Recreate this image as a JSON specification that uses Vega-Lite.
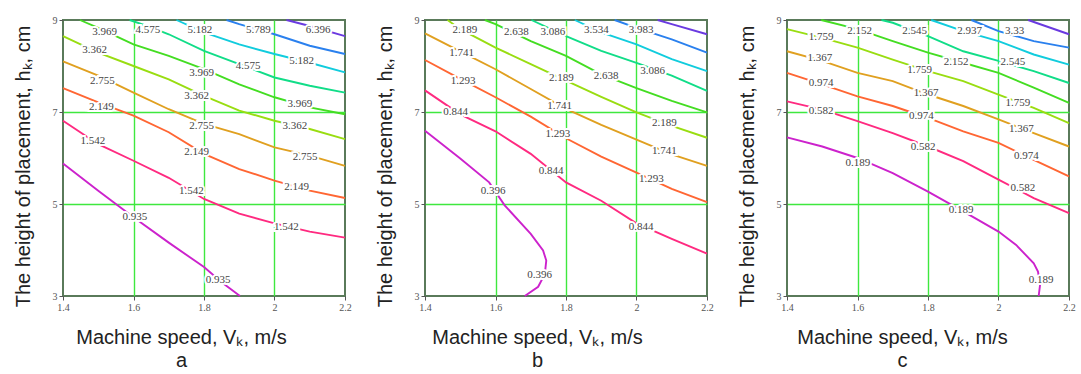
{
  "$schema": "https://vega.github.io/schema/vega-lite/v6.json",
  "background": "white",
  "padding": {"left": 11, "top": 14, "right": 0, "bottom": 0},
  "bounds": "flush",
  "spacing": 80,
  "config": {
    "view": {"stroke": "#5a7a5a", "strokeWidth": 2},
    "axis": {
      "labelFont": "Liberation Serif", "labelFontSize": 10, "labelColor": "#555",
      "titleFont": "Liberation Sans", "titleFontSize": 20, "titleFontWeight": "normal", "titleColor": "#222",
      "domain": false, "tickColor": "#555", "tickSize": 4, "labelPadding": 2,
      "grid": true, "gridColor": "#3ee83e", "gridWidth": 1.4
    },
    "axisX": {"labelFlush": false, "titlePadding": 15, "titleLineHeight": 23},
    "axisY": {"titlePadding": 19, "titleY": 146}
  },
  "datasets": {
    "lines": [
      {"p":"a","k":0,"i":0,"x":1.4,"y":5.88},{"p":"a","k":0,"i":1,"x":1.5,"y":5.29},{"p":"a","k":0,"i":2,"x":1.6,"y":4.71},{"p":"a","k":0,"i":3,"x":1.7,"y":4.16},{"p":"a","k":0,"i":4,"x":1.8,"y":3.63},{"p":"a","k":0,"i":5,"x":1.85,"y":3.30},{"p":"a","k":0,"i":6,"x":1.902,"y":3.0},
      {"p":"a","k":1,"i":0,"x":1.4,"y":6.81},{"p":"a","k":1,"i":1,"x":1.5,"y":6.30},{"p":"a","k":1,"i":2,"x":1.6,"y":5.94},{"p":"a","k":1,"i":3,"x":1.7,"y":5.57},{"p":"a","k":1,"i":4,"x":1.8,"y":5.11},{"p":"a","k":1,"i":5,"x":1.9,"y":4.79},{"p":"a","k":1,"i":6,"x":2.0,"y":4.58},{"p":"a","k":1,"i":7,"x":2.1,"y":4.40},{"p":"a","k":1,"i":8,"x":2.2,"y":4.27},
      {"p":"a","k":2,"i":0,"x":1.4,"y":7.52},{"p":"a","k":2,"i":1,"x":1.5,"y":7.21},{"p":"a","k":2,"i":2,"x":1.6,"y":6.92},{"p":"a","k":2,"i":3,"x":1.7,"y":6.56},{"p":"a","k":2,"i":4,"x":1.8,"y":6.09},{"p":"a","k":2,"i":5,"x":1.9,"y":5.76},{"p":"a","k":2,"i":6,"x":2.0,"y":5.51},{"p":"a","k":2,"i":7,"x":2.1,"y":5.29},{"p":"a","k":2,"i":8,"x":2.2,"y":5.13},
      {"p":"a","k":3,"i":0,"x":1.4,"y":8.10},{"p":"a","k":3,"i":1,"x":1.5,"y":7.79},{"p":"a","k":3,"i":2,"x":1.6,"y":7.42},{"p":"a","k":3,"i":3,"x":1.7,"y":7.06},{"p":"a","k":3,"i":4,"x":1.8,"y":6.74},{"p":"a","k":3,"i":5,"x":1.9,"y":6.52},{"p":"a","k":3,"i":6,"x":2.0,"y":6.23},{"p":"a","k":3,"i":7,"x":2.1,"y":6.05},{"p":"a","k":3,"i":8,"x":2.2,"y":5.83},
      {"p":"a","k":4,"i":0,"x":1.4,"y":8.65},{"p":"a","k":4,"i":1,"x":1.5,"y":8.29},{"p":"a","k":4,"i":2,"x":1.6,"y":8.00},{"p":"a","k":4,"i":3,"x":1.7,"y":7.71},{"p":"a","k":4,"i":4,"x":1.8,"y":7.35},{"p":"a","k":4,"i":5,"x":1.9,"y":7.03},{"p":"a","k":4,"i":6,"x":2.0,"y":6.81},{"p":"a","k":4,"i":7,"x":2.1,"y":6.63},{"p":"a","k":4,"i":8,"x":2.2,"y":6.41},
      {"p":"a","k":5,"i":0,"x":1.448,"y":9.0},{"p":"a","k":5,"i":1,"x":1.5,"y":8.83},{"p":"a","k":5,"i":2,"x":1.6,"y":8.47},{"p":"a","k":5,"i":3,"x":1.7,"y":8.22},{"p":"a","k":5,"i":4,"x":1.8,"y":7.93},{"p":"a","k":5,"i":5,"x":1.9,"y":7.60},{"p":"a","k":5,"i":6,"x":2.0,"y":7.32},{"p":"a","k":5,"i":7,"x":2.1,"y":7.10},{"p":"a","k":5,"i":8,"x":2.2,"y":6.95},
      {"p":"a","k":6,"i":0,"x":1.589,"y":9.0},{"p":"a","k":6,"i":1,"x":1.65,"y":8.84},{"p":"a","k":6,"i":2,"x":1.7,"y":8.69},{"p":"a","k":6,"i":3,"x":1.8,"y":8.33},{"p":"a","k":6,"i":4,"x":1.9,"y":8.04},{"p":"a","k":6,"i":5,"x":2.0,"y":7.75},{"p":"a","k":6,"i":6,"x":2.1,"y":7.57},{"p":"a","k":6,"i":7,"x":2.2,"y":7.42},
      {"p":"a","k":7,"i":0,"x":1.722,"y":9.0},{"p":"a","k":7,"i":1,"x":1.8,"y":8.73},{"p":"a","k":7,"i":2,"x":1.9,"y":8.47},{"p":"a","k":7,"i":3,"x":2.0,"y":8.26},{"p":"a","k":7,"i":4,"x":2.1,"y":8.07},{"p":"a","k":7,"i":5,"x":2.2,"y":7.86},
      {"p":"a","k":8,"i":0,"x":1.864,"y":9.0},{"p":"a","k":8,"i":1,"x":1.9,"y":8.91},{"p":"a","k":8,"i":2,"x":2.0,"y":8.69},{"p":"a","k":8,"i":3,"x":2.1,"y":8.44},{"p":"a","k":8,"i":4,"x":2.2,"y":8.26},
      {"p":"a","k":9,"i":0,"x":2.034,"y":9.0},{"p":"a","k":9,"i":1,"x":2.1,"y":8.87},{"p":"a","k":9,"i":2,"x":2.2,"y":8.65},

      {"p":"b","k":0,"i":0,"x":1.4,"y":6.59},{"p":"b","k":0,"i":1,"x":1.5,"y":5.99},{"p":"b","k":0,"i":2,"x":1.582,"y":5.47},{"p":"b","k":0,"i":3,"x":1.626,"y":4.97},{"p":"b","k":0,"i":4,"x":1.7,"y":4.35},{"p":"b","k":0,"i":5,"x":1.735,"y":3.99},{"p":"b","k":0,"i":6,"x":1.744,"y":3.77},{"p":"b","k":0,"i":7,"x":1.740,"y":3.48},{"p":"b","k":0,"i":8,"x":1.721,"y":3.20},{"p":"b","k":0,"i":9,"x":1.683,"y":3.0},
      {"p":"b","k":1,"i":0,"x":1.4,"y":7.47},{"p":"b","k":1,"i":1,"x":1.5,"y":6.95},{"p":"b","k":1,"i":2,"x":1.6,"y":6.58},{"p":"b","k":1,"i":3,"x":1.7,"y":6.09},{"p":"b","k":1,"i":4,"x":1.8,"y":5.47},{"p":"b","k":1,"i":5,"x":1.9,"y":5.07},{"p":"b","k":1,"i":6,"x":2.0,"y":4.58},{"p":"b","k":1,"i":7,"x":2.1,"y":4.24},{"p":"b","k":1,"i":8,"x":2.2,"y":3.92},
      {"p":"b","k":2,"i":0,"x":1.4,"y":8.13},{"p":"b","k":2,"i":1,"x":1.5,"y":7.72},{"p":"b","k":2,"i":2,"x":1.6,"y":7.32},{"p":"b","k":2,"i":3,"x":1.7,"y":6.90},{"p":"b","k":2,"i":4,"x":1.8,"y":6.43},{"p":"b","k":2,"i":5,"x":1.9,"y":6.03},{"p":"b","k":2,"i":6,"x":2.0,"y":5.68},{"p":"b","k":2,"i":7,"x":2.1,"y":5.33},{"p":"b","k":2,"i":8,"x":2.2,"y":5.04},
      {"p":"b","k":3,"i":0,"x":1.4,"y":8.71},{"p":"b","k":3,"i":1,"x":1.5,"y":8.32},{"p":"b","k":3,"i":2,"x":1.6,"y":7.93},{"p":"b","k":3,"i":3,"x":1.7,"y":7.50},{"p":"b","k":3,"i":4,"x":1.8,"y":7.07},{"p":"b","k":3,"i":5,"x":1.9,"y":6.72},{"p":"b","k":3,"i":6,"x":2.0,"y":6.40},{"p":"b","k":3,"i":7,"x":2.1,"y":6.08},{"p":"b","k":3,"i":8,"x":2.2,"y":5.83},
      {"p":"b","k":4,"i":0,"x":1.464,"y":9.0},{"p":"b","k":4,"i":1,"x":1.5,"y":8.80},{"p":"b","k":4,"i":2,"x":1.6,"y":8.40},{"p":"b","k":4,"i":3,"x":1.7,"y":8.04},{"p":"b","k":4,"i":4,"x":1.8,"y":7.68},{"p":"b","k":4,"i":5,"x":1.9,"y":7.33},{"p":"b","k":4,"i":6,"x":2.0,"y":6.99},{"p":"b","k":4,"i":7,"x":2.1,"y":6.70},{"p":"b","k":4,"i":8,"x":2.2,"y":6.44},
      {"p":"b","k":5,"i":0,"x":1.57,"y":9.0},{"p":"b","k":5,"i":1,"x":1.6,"y":8.91},{"p":"b","k":5,"i":2,"x":1.7,"y":8.54},{"p":"b","k":5,"i":3,"x":1.8,"y":8.22},{"p":"b","k":5,"i":4,"x":1.9,"y":7.82},{"p":"b","k":5,"i":5,"x":2.0,"y":7.52},{"p":"b","k":5,"i":6,"x":2.1,"y":7.24},{"p":"b","k":5,"i":7,"x":2.2,"y":6.99},
      {"p":"b","k":6,"i":0,"x":1.702,"y":9.0},{"p":"b","k":6,"i":1,"x":1.8,"y":8.65},{"p":"b","k":6,"i":2,"x":1.9,"y":8.33},{"p":"b","k":6,"i":3,"x":2.0,"y":8.07},{"p":"b","k":6,"i":4,"x":2.1,"y":7.79},{"p":"b","k":6,"i":5,"x":2.2,"y":7.46},
      {"p":"b","k":7,"i":0,"x":1.825,"y":9.0},{"p":"b","k":7,"i":1,"x":1.9,"y":8.73},{"p":"b","k":7,"i":2,"x":2.0,"y":8.47},{"p":"b","k":7,"i":3,"x":2.1,"y":8.15},{"p":"b","k":7,"i":4,"x":2.2,"y":7.89},
      {"p":"b","k":8,"i":0,"x":1.938,"y":9.0},{"p":"b","k":8,"i":1,"x":2.0,"y":8.83},{"p":"b","k":8,"i":2,"x":2.1,"y":8.58},{"p":"b","k":8,"i":3,"x":2.2,"y":8.29},
      {"p":"b","k":9,"i":0,"x":2.06,"y":9.0},{"p":"b","k":9,"i":1,"x":2.1,"y":8.91},{"p":"b","k":9,"i":2,"x":2.2,"y":8.69},

      {"p":"c","k":0,"i":0,"x":1.4,"y":6.45},{"p":"c","k":0,"i":1,"x":1.5,"y":6.25},{"p":"c","k":0,"i":2,"x":1.6,"y":6.00},{"p":"c","k":0,"i":3,"x":1.7,"y":5.67},{"p":"c","k":0,"i":4,"x":1.8,"y":5.27},{"p":"c","k":0,"i":5,"x":1.9,"y":4.84},{"p":"c","k":0,"i":6,"x":2.0,"y":4.40},{"p":"c","k":0,"i":7,"x":2.05,"y":4.11},{"p":"c","k":0,"i":8,"x":2.1,"y":3.71},{"p":"c","k":0,"i":9,"x":2.112,"y":3.53},{"p":"c","k":0,"i":10,"x":2.118,"y":3.25},{"p":"c","k":0,"i":11,"x":2.114,"y":3.0},
      {"p":"c","k":1,"i":0,"x":1.4,"y":7.23},{"p":"c","k":1,"i":1,"x":1.5,"y":7.05},{"p":"c","k":1,"i":2,"x":1.6,"y":6.80},{"p":"c","k":1,"i":3,"x":1.7,"y":6.54},{"p":"c","k":1,"i":4,"x":1.8,"y":6.25},{"p":"c","k":1,"i":5,"x":1.9,"y":5.93},{"p":"c","k":1,"i":6,"x":2.0,"y":5.53},{"p":"c","k":1,"i":7,"x":2.1,"y":5.13},{"p":"c","k":1,"i":8,"x":2.2,"y":4.80},
      {"p":"c","k":2,"i":0,"x":1.4,"y":7.85},{"p":"c","k":2,"i":1,"x":1.5,"y":7.60},{"p":"c","k":2,"i":2,"x":1.6,"y":7.34},{"p":"c","k":2,"i":3,"x":1.7,"y":7.13},{"p":"c","k":2,"i":4,"x":1.8,"y":6.87},{"p":"c","k":2,"i":5,"x":1.9,"y":6.58},{"p":"c","k":2,"i":6,"x":2.0,"y":6.33},{"p":"c","k":2,"i":7,"x":2.1,"y":5.96},{"p":"c","k":2,"i":8,"x":2.2,"y":5.60},
      {"p":"c","k":3,"i":0,"x":1.4,"y":8.32},{"p":"c","k":3,"i":1,"x":1.5,"y":8.11},{"p":"c","k":3,"i":2,"x":1.6,"y":7.85},{"p":"c","k":3,"i":3,"x":1.7,"y":7.67},{"p":"c","k":3,"i":4,"x":1.8,"y":7.38},{"p":"c","k":3,"i":5,"x":1.9,"y":7.13},{"p":"c","k":3,"i":6,"x":2.0,"y":6.84},{"p":"c","k":3,"i":7,"x":2.1,"y":6.54},{"p":"c","k":3,"i":8,"x":2.2,"y":6.25},
      {"p":"c","k":4,"i":0,"x":1.4,"y":8.80},{"p":"c","k":4,"i":1,"x":1.5,"y":8.61},{"p":"c","k":4,"i":2,"x":1.6,"y":8.40},{"p":"c","k":4,"i":3,"x":1.7,"y":8.14},{"p":"c","k":4,"i":4,"x":1.8,"y":7.89},{"p":"c","k":4,"i":5,"x":1.9,"y":7.67},{"p":"c","k":4,"i":6,"x":2.0,"y":7.38},{"p":"c","k":4,"i":7,"x":2.1,"y":7.09},{"p":"c","k":4,"i":8,"x":2.2,"y":6.76},
      {"p":"c","k":5,"i":0,"x":1.497,"y":9.0},{"p":"c","k":5,"i":1,"x":1.6,"y":8.80},{"p":"c","k":5,"i":2,"x":1.7,"y":8.54},{"p":"c","k":5,"i":3,"x":1.8,"y":8.29},{"p":"c","k":5,"i":4,"x":1.9,"y":8.07},{"p":"c","k":5,"i":5,"x":2.0,"y":7.85},{"p":"c","k":5,"i":6,"x":2.1,"y":7.53},{"p":"c","k":5,"i":7,"x":2.2,"y":7.20},
      {"p":"c","k":6,"i":0,"x":1.668,"y":9.0},{"p":"c","k":6,"i":1,"x":1.7,"y":8.94},{"p":"c","k":6,"i":2,"x":1.8,"y":8.65},{"p":"c","k":6,"i":3,"x":1.9,"y":8.32},{"p":"c","k":6,"i":4,"x":2.0,"y":8.11},{"p":"c","k":6,"i":5,"x":2.1,"y":7.89},{"p":"c","k":6,"i":6,"x":2.2,"y":7.63},
      {"p":"c","k":7,"i":0,"x":1.809,"y":9.0},{"p":"c","k":7,"i":1,"x":1.9,"y":8.76},{"p":"c","k":7,"i":2,"x":2.0,"y":8.54},{"p":"c","k":7,"i":3,"x":2.1,"y":8.25},{"p":"c","k":7,"i":4,"x":2.2,"y":8.03},
      {"p":"c","k":8,"i":0,"x":1.923,"y":9.0},{"p":"c","k":8,"i":1,"x":2.0,"y":8.76},{"p":"c","k":8,"i":2,"x":2.1,"y":8.54},{"p":"c","k":8,"i":3,"x":2.2,"y":8.40},
      {"p":"c","k":9,"i":0,"x":2.084,"y":9.0},{"p":"c","k":9,"i":1,"x":2.2,"y":8.69}
    ],
    "labels": [
      {"p":"a","t":"3.969","x":1.518,"y":8.75},{"p":"a","t":"4.575","x":1.641,"y":8.78},{"p":"a","t":"5.182","x":1.788,"y":8.78},{"p":"a","t":"5.789","x":1.954,"y":8.78},{"p":"a","t":"6.396","x":2.124,"y":8.78},
      {"p":"a","t":"3.362","x":1.490,"y":8.34},{"p":"a","t":"2.755","x":1.512,"y":7.68},{"p":"a","t":"2.149","x":1.509,"y":7.10},{"p":"a","t":"1.542","x":1.485,"y":6.38},{"p":"a","t":"0.935","x":1.604,"y":4.71},
      {"p":"a","t":"3.969","x":1.793,"y":7.84},{"p":"a","t":"4.575","x":1.925,"y":8.00},{"p":"a","t":"5.182","x":2.077,"y":8.11},{"p":"a","t":"3.362","x":1.779,"y":7.35},{"p":"a","t":"3.969","x":2.072,"y":7.17},
      {"p":"a","t":"2.755","x":1.793,"y":6.70},{"p":"a","t":"3.362","x":2.058,"y":6.70},{"p":"a","t":"2.149","x":1.779,"y":6.12},{"p":"a","t":"2.755","x":2.087,"y":6.03},{"p":"a","t":"1.542","x":1.764,"y":5.29},
      {"p":"a","t":"2.149","x":2.063,"y":5.36},{"p":"a","t":"1.542","x":2.034,"y":4.51},{"p":"a","t":"0.935","x":1.840,"y":3.34},

      {"p":"b","t":"2.189","x":1.513,"y":8.78},{"p":"b","t":"2.638","x":1.659,"y":8.75},{"p":"b","t":"3.086","x":1.763,"y":8.75},{"p":"b","t":"3.534","x":1.886,"y":8.78},{"p":"b","t":"3.983","x":2.013,"y":8.78},
      {"p":"b","t":"1.741","x":1.504,"y":8.29},{"p":"b","t":"1.293","x":1.508,"y":7.68},{"p":"b","t":"0.844","x":1.487,"y":6.99},{"p":"b","t":"0.396","x":1.593,"y":5.28},
      {"p":"b","t":"2.189","x":1.787,"y":7.73},{"p":"b","t":"2.638","x":1.914,"y":7.79},{"p":"b","t":"3.086","x":2.046,"y":7.89},{"p":"b","t":"1.741","x":1.782,"y":7.13},{"p":"b","t":"2.189","x":2.079,"y":6.77},
      {"p":"b","t":"1.293","x":1.777,"y":6.53},{"p":"b","t":"1.741","x":2.079,"y":6.16},{"p":"b","t":"0.844","x":1.758,"y":5.71},{"p":"b","t":"1.293","x":2.042,"y":5.54},{"p":"b","t":"0.844","x":2.013,"y":4.51},{"p":"b","t":"0.396","x":1.725,"y":3.45},

      {"p":"c","t":"2.152","x":1.606,"y":8.76},{"p":"c","t":"2.545","x":1.762,"y":8.76},{"p":"c","t":"2.937","x":1.918,"y":8.76},{"p":"c","t":"3.33","x":2.046,"y":8.76},
      {"p":"c","t":"1.759","x":1.497,"y":8.62},{"p":"c","t":"1.367","x":1.493,"y":8.18},{"p":"c","t":"0.974","x":1.497,"y":7.63},{"p":"c","t":"0.582","x":1.497,"y":7.02},{"p":"c","t":"0.189","x":1.601,"y":5.89},
      {"p":"c","t":"2.152","x":1.880,"y":8.09},{"p":"c","t":"2.545","x":2.041,"y":8.09},{"p":"c","t":"1.759","x":1.776,"y":7.92},{"p":"c","t":"1.367","x":1.795,"y":7.42},{"p":"c","t":"1.759","x":2.055,"y":7.20},
      {"p":"c","t":"0.974","x":1.781,"y":6.91},{"p":"c","t":"1.367","x":2.065,"y":6.62},{"p":"c","t":"0.582","x":1.786,"y":6.23},{"p":"c","t":"0.974","x":2.079,"y":6.05},{"p":"c","t":"0.582","x":2.069,"y":5.35},
      {"p":"c","t":"0.189","x":1.894,"y":4.87},{"p":"c","t":"0.189","x":2.121,"y":3.35}
    ]
  },
  "hconcat": [
    {
      "width": 282, "height": 276,
      "layer": [
        {
          "data": {"name": "lines"},
          "transform": [{"filter": "datum.p == 'a'"}],
          "mark": {"type": "line", "strokeWidth": 1.9},
          "encoding": {
            "x": {"field": "x", "type": "quantitative", "scale": {"domain": [1.4, 2.2], "nice": false, "zero": false},
                  "axis": {"values": [1.4, 1.6, 1.8, 2, 2.2], "format": "~g", "title": ["Machine speed, Vₖ, m/s", "a"], "titleX": 118,
                           "gridOpacity": {"condition": {"test": "datum.value < 1.45 || datum.value > 2.15", "value": 0}, "value": 1}}},
            "y": {"field": "y", "type": "quantitative", "scale": {"domain": [3, 9], "nice": false, "zero": false},
                  "axis": {"values": [3, 5, 7, 9], "title": "The height of placement, hₖ, cm",
                           "gridOpacity": {"condition": {"test": "datum.value == 3 || datum.value == 9", "value": 0}, "value": 1}}},
            "color": {"field": "k", "type": "ordinal", "legend": null,
                      "scale": {"domain": [0,1,2,3,4,5,6,7,8,9], "range": ["#cc22cc","#ff2a80","#ff6633","#e0a020","#99dd11","#44dd22","#11dd88","#11ccdd","#2a80ee","#6a3ae0"]}},
            "order": {"field": "i", "type": "quantitative"}
          }
        },
        {
          "data": {"name": "labels"},
          "transform": [{"filter": "datum.p == 'a'"}],
          "mark": {"type": "text", "font": "Liberation Serif", "fontSize": 11, "fill": "white", "stroke": "white", "strokeWidth": 4},
          "encoding": {"x": {"field": "x", "type": "quantitative"}, "y": {"field": "y", "type": "quantitative"}, "text": {"field": "t"}}
        },
        {
          "data": {"name": "labels"},
          "transform": [{"filter": "datum.p == 'a'"}],
          "mark": {"type": "text", "font": "Liberation Serif", "fontSize": 11, "fill": "#444"},
          "encoding": {"x": {"field": "x", "type": "quantitative"}, "y": {"field": "y", "type": "quantitative"}, "text": {"field": "t"}}
        }
      ]
    },
    {
      "width": 282, "height": 276,
      "layer": [
        {
          "data": {"name": "lines"},
          "transform": [{"filter": "datum.p == 'b'"}],
          "mark": {"type": "line", "strokeWidth": 1.9},
          "encoding": {
            "x": {"field": "x", "type": "quantitative", "scale": {"domain": [1.4, 2.2], "nice": false, "zero": false},
                  "axis": {"values": [1.4, 1.6, 1.8, 2, 2.2], "format": "~g", "title": ["Machine speed, Vₖ, m/s", "b"], "titleX": 112,
                           "gridOpacity": {"condition": {"test": "datum.value < 1.45 || datum.value > 2.15", "value": 0}, "value": 1}}},
            "y": {"field": "y", "type": "quantitative", "scale": {"domain": [3, 9], "nice": false, "zero": false},
                  "axis": {"values": [3, 5, 7, 9], "title": "The height of placement, hₖ, cm",
                           "gridOpacity": {"condition": {"test": "datum.value == 3 || datum.value == 9", "value": 0}, "value": 1}}},
            "color": {"field": "k", "type": "ordinal", "legend": null,
                      "scale": {"domain": [0,1,2,3,4,5,6,7,8,9], "range": ["#cc22cc","#ff2a80","#ff6633","#e0a020","#99dd11","#44dd22","#11dd88","#11ccdd","#2a80ee","#6a3ae0"]}},
            "order": {"field": "i", "type": "quantitative"}
          }
        },
        {
          "data": {"name": "labels"},
          "transform": [{"filter": "datum.p == 'b'"}],
          "mark": {"type": "text", "font": "Liberation Serif", "fontSize": 11, "fill": "white", "stroke": "white", "strokeWidth": 4},
          "encoding": {"x": {"field": "x", "type": "quantitative"}, "y": {"field": "y", "type": "quantitative"}, "text": {"field": "t"}}
        },
        {
          "data": {"name": "labels"},
          "transform": [{"filter": "datum.p == 'b'"}],
          "mark": {"type": "text", "font": "Liberation Serif", "fontSize": 11, "fill": "#444"},
          "encoding": {"x": {"field": "x", "type": "quantitative"}, "y": {"field": "y", "type": "quantitative"}, "text": {"field": "t"}}
        }
      ]
    },
    {
      "width": 282, "height": 276,
      "layer": [
        {
          "data": {"name": "lines"},
          "transform": [{"filter": "datum.p == 'c'"}],
          "mark": {"type": "line", "strokeWidth": 1.9},
          "encoding": {
            "x": {"field": "x", "type": "quantitative", "scale": {"domain": [1.4, 2.2], "nice": false, "zero": false},
                  "axis": {"values": [1.4, 1.6, 1.8, 2, 2.2], "format": "~g", "title": ["Machine speed, Vₖ, m/s", "c"], "titleX": 115,
                           "gridOpacity": {"condition": {"test": "datum.value < 1.45 || datum.value > 2.15", "value": 0}, "value": 1}}},
            "y": {"field": "y", "type": "quantitative", "scale": {"domain": [3, 9], "nice": false, "zero": false},
                  "axis": {"values": [3, 5, 7, 9], "title": "The height of placement, hₖ, cm",
                           "gridOpacity": {"condition": {"test": "datum.value == 3 || datum.value == 9", "value": 0}, "value": 1}}},
            "color": {"field": "k", "type": "ordinal", "legend": null,
                      "scale": {"domain": [0,1,2,3,4,5,6,7,8,9], "range": ["#cc22cc","#ff2a80","#ff6633","#e0a020","#99dd11","#44dd22","#11dd88","#11ccdd","#2a80ee","#6a3ae0"]}},
            "order": {"field": "i", "type": "quantitative"}
          }
        },
        {
          "data": {"name": "labels"},
          "transform": [{"filter": "datum.p == 'c'"}],
          "mark": {"type": "text", "font": "Liberation Serif", "fontSize": 11, "fill": "white", "stroke": "white", "strokeWidth": 4},
          "encoding": {"x": {"field": "x", "type": "quantitative"}, "y": {"field": "y", "type": "quantitative"}, "text": {"field": "t"}}
        },
        {
          "data": {"name": "labels"},
          "transform": [{"filter": "datum.p == 'c'"}],
          "mark": {"type": "text", "font": "Liberation Serif", "fontSize": 11, "fill": "#444"},
          "encoding": {"x": {"field": "x", "type": "quantitative"}, "y": {"field": "y", "type": "quantitative"}, "text": {"field": "t"}}
        }
      ]
    }
  ]
}
